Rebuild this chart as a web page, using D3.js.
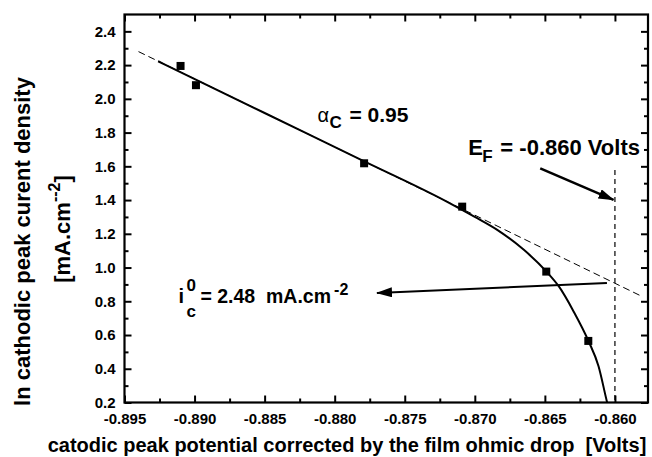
<!DOCTYPE html>
<html>
<head>
<meta charset="utf-8">
<script src="https://cdn.jsdelivr.net/npm/d3@7"></script>
<style>
  html, body { margin: 0; padding: 0; background: #fff; }
  svg { display: block; }
  text { font-family: "Liberation Sans", Arial, sans-serif; font-weight: bold; fill: #000; white-space: pre; }
</style>
</head>
<body>
<script>
// ---------- data ----------
const xTicks = [-0.895, -0.890, -0.885, -0.880, -0.875, -0.870, -0.865, -0.860];
const xTickLabels = ["-0.895", "-0.890", "-0.885", "-0.880", "-0.875", "-0.870", "-0.865", "-0.860"];
const yTicks = [0.2, 0.4, 0.6, 0.8, 1.0, 1.2, 1.4, 1.6, 1.8, 2.0, 2.2, 2.4];
const yTickLabels = ["0.2", "0.4", "0.6", "0.8", "1.0", "1.2", "1.4", "1.6", "1.8", "2.0", "2.2", "2.4"];

// measured points (potential, ln i)
const pointsX = [-0.8910, -0.8899, -0.8779, -0.8709, -0.8649, -0.8619];
const pointsY = [2.195, 2.081, 1.618, 1.361, 0.976, 0.565];

// Tafel straight line (dashed extrapolation)
const tafelX = [-0.8940, -0.8580];
const tafelY = [2.280, 0.826];

// fitted solid curve
const curveX = [-0.8926, -0.8850, -0.8780, -0.8720, -0.8700, -0.8684, -0.8665, -0.8649, -0.8640, -0.86295, -0.86188, -0.86117, -0.86057, -0.86040];
const curveY = [2.223, 1.916, 1.634, 1.391, 1.300, 1.223, 1.105, 0.977, 0.888, 0.740, 0.563, 0.415, 0.205, 0.150];

// Flade potential marker
const efX = [-0.860, -0.860];
const efY = [1.578, 0.2];

// annotation arrows [fromX, fromY, toX, toY]
const efArrow = [-0.86533, 1.588, -0.8601, 1.401];
const icArrow = [-0.86057, 0.908, -0.87698, 0.849];

// ---------- layout ----------
const W = 652, H = 457;
const mLeft = 124.5, mRight = 648, mTop = 14.5, mBottom = 402.5;

const svg = d3.select("body").append("svg").attr("width", W).attr("height", H);

const x = d3.scaleLinear().domain([-0.895, -0.85764]).range([mLeft, mRight]);
const y = d3.scaleLinear().domain([0.2, 2.5]).range([mBottom, mTop]);

const defs = svg.append("defs");
defs.append("clipPath").attr("id", "clip")
  .append("rect").attr("x", mLeft).attr("y", mTop).attr("width", mRight - mLeft).attr("height", mBottom - mTop);

defs.append("marker").attr("id", "ah").attr("viewBox", "0 0 16 10")
  .attr("markerUnits", "userSpaceOnUse").attr("markerWidth", 16).attr("markerHeight", 10)
  .attr("refX", 15).attr("refY", 5).attr("orient", "auto")
  .append("path").attr("d", "M0,0 L16,5 L0,10 Z").attr("fill", "#000");

// ---------- axes (ticks inward on all sides) ----------
const xMinor = d3.range(-0.895, -0.8575, 0.0025).map(v => +v.toFixed(4)).filter(v => !xTicks.some(t => Math.abs(t - v) < 1e-6));
const yMinor = d3.range(0.3, 2.5, 0.2).map(v => +v.toFixed(2));

const axB = d3.axisBottom(x).tickValues(xTicks).tickSize(-7).tickFormat((d, i) => xTickLabels[i]).tickPadding(11);
const axBm = d3.axisBottom(x).tickValues(xMinor).tickSize(-4).tickFormat("");
const axT = d3.axisTop(x).tickValues(xTicks).tickSize(-7).tickFormat("");
const axTm = d3.axisTop(x).tickValues(xMinor).tickSize(-4).tickFormat("");
const axL = d3.axisLeft(y).tickValues(yTicks).tickSize(-7).tickFormat((d, i) => yTickLabels[i]).tickPadding(9);
const axLm = d3.axisLeft(y).tickValues(yMinor).tickSize(-4).tickFormat("");
const axR = d3.axisRight(y).tickValues(yTicks).tickSize(-7).tickFormat("");
const axRm = d3.axisRight(y).tickValues(yMinor).tickSize(-4).tickFormat("");

function styleAxis(g) {
  g.select(".domain").remove();
  g.selectAll(".tick line").attr("stroke", "#000").attr("stroke-width", 2);
  g.selectAll(".tick text").style("font-size", "15px").style("font-weight", "bold")
    .style("font-family", "'Liberation Sans', Arial, sans-serif").attr("fill", "#000");
}
svg.append("g").attr("transform", `translate(0,${mBottom})`).call(axB).call(styleAxis);
svg.append("g").attr("transform", `translate(0,${mBottom})`).call(axBm).call(styleAxis);
svg.append("g").attr("transform", `translate(0,${mTop})`).call(axT).call(styleAxis);
svg.append("g").attr("transform", `translate(0,${mTop})`).call(axTm).call(styleAxis);
svg.append("g").attr("transform", `translate(${mLeft},0)`).call(axL).call(styleAxis);
svg.append("g").attr("transform", `translate(${mLeft},0)`).call(axLm).call(styleAxis);
svg.append("g").attr("transform", `translate(${mRight},0)`).call(axR).call(styleAxis);
svg.append("g").attr("transform", `translate(${mRight},0)`).call(axRm).call(styleAxis);

svg.append("rect").attr("x", mLeft).attr("y", mTop).attr("width", mRight - mLeft).attr("height", mBottom - mTop)
  .attr("fill", "none").attr("stroke", "#000").attr("stroke-width", 2.2);

// ---------- plot content ----------
const plot = svg.append("g").attr("clip-path", "url(#clip)");
const line = d3.line().x(d => x(d[0])).y(d => y(d[1]));

plot.append("path").datum(tafelX.map((v, i) => [v, tafelY[i]])).attr("d", line)
  .attr("fill", "none").attr("stroke", "#000").attr("stroke-width", 1).attr("stroke-dasharray", "7,4");

plot.append("path").datum(efX.map((v, i) => [v, efY[i]])).attr("d", line)
  .attr("fill", "none").attr("stroke", "#000").attr("stroke-width", 1.2).attr("stroke-dasharray", "5,4");

plot.append("path").datum(curveX.map((v, i) => [v, curveY[i]]))
  .attr("d", d3.line().x(d => x(d[0])).y(d => y(d[1])).curve(d3.curveMonotoneX))
  .attr("fill", "none").attr("stroke", "#000").attr("stroke-width", 2);

plot.selectAll("rect.pt").data(pointsX.map((v, i) => [v, pointsY[i]])).enter().append("rect")
  .attr("class", "pt").attr("x", d => x(d[0]) - 4).attr("y", d => y(d[1]) - 4)
  .attr("width", 8).attr("height", 8).attr("fill", "#000");

// arrows
svg.append("line").attr("x1", x(efArrow[0])).attr("y1", y(efArrow[1])).attr("x2", x(efArrow[2])).attr("y2", y(efArrow[3]))
  .attr("stroke", "#000").attr("stroke-width", 2.5).attr("marker-end", "url(#ah)");
svg.append("line").attr("x1", x(icArrow[0])).attr("y1", y(icArrow[1])).attr("x2", x(icArrow[2])).attr("y2", y(icArrow[3]))
  .attr("stroke", "#000").attr("stroke-width", 2).attr("marker-end", "url(#ah)");

// ---------- annotations ----------
// alpha_c
const aX = x(-0.88123), aY = y(1.862);
svg.append("text").attr("x", aX).attr("y", aY).style("font-size", "20px").style("font-weight", "normal").text("α");
svg.append("text").attr("x", aX + 12).attr("y", aY + 6).style("font-size", "17px").text("C");
svg.append("text").attr("x", aX + 32).attr("y", aY).style("font-size", "21px").text("= 0.95");

// E_F
const eX = x(-0.87046), eY = y(1.667);
svg.append("text").attr("x", eX).attr("y", eY).style("font-size", "22px").text("E");
svg.append("text").attr("x", eX + 14).attr("y", eY + 6.5).style("font-size", "17px").text("F");
svg.append("text").attr("x", eX + 32).attr("y", eY).style("font-size", "22px").text("= -0.860 Volts");

// i_c^0
const iX = x(-0.89115), iY = y(0.792);
svg.append("text").attr("x", iX).attr("y", iY).style("font-size", "20px").text("i");
svg.append("text").attr("x", iX + 8).attr("y", iY - 11.5).style("font-size", "17px").text("0");
svg.append("text").attr("x", iX + 8).attr("y", iY + 14).style("font-size", "17px").text("c");
const iMain = svg.append("text").attr("x", iX + 22).attr("y", iY).style("font-size", "19.5px").text("= 2.48  mA.cm");
const iLen = iMain.node().getComputedTextLength();
svg.append("text").attr("x", iX + 22 + iLen + 3).attr("y", iY - 8).style("font-size", "16px").text("-2");

// ---------- axis titles ----------
svg.append("text").attr("x", 347).attr("y", 452).attr("text-anchor", "middle")
  .style("font-size", "20px").text("catodic peak potential corrected by the film ohmic drop  [Volts]");

svg.append("text").attr("transform", "translate(30,241.5) rotate(-90)").attr("text-anchor", "middle")
  .style("font-size", "22px").text("ln cathodic peak curent density");

const yt2 = svg.append("text").attr("transform", "translate(70,229) rotate(-90)").attr("text-anchor", "middle")
  .style("font-size", "22px");
yt2.append("tspan").text("[mA.cm");
yt2.append("tspan").attr("dy", -10).style("font-size", "16px").text("--2");
yt2.append("tspan").attr("dy", 10).text("]");
</script>
</body>
</html>
